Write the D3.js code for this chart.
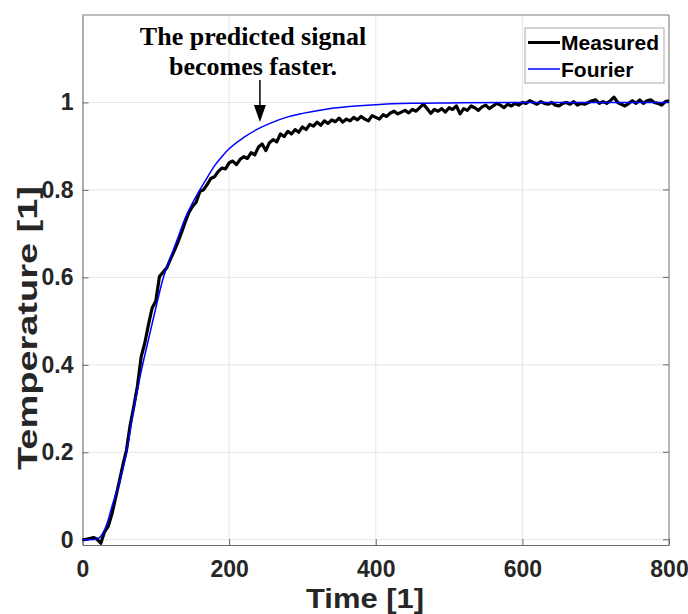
<!DOCTYPE html>
<html>
<head>
<meta charset="utf-8">
<script src="https://cdn.jsdelivr.net/npm/d3@7"></script>
<style>
  body { margin: 0; background: #fff; }
  svg { display: block; }
</style>
</head>
<body>
<svg id="chart" width="688" height="614"></svg>
<script>
// measured response, sampled every 5 time units from 0 to 800
const measuredStep = 5
const measured = [
  0.000, 0.001, 0.003, 0.005, 0.001, -0.008, 0.018, 0.030, 0.058, 0.095,
  0.132, 0.170, 0.205, 0.262, 0.305, 0.352, 0.418, 0.450, 0.492, 0.530,
  0.546, 0.602, 0.612, 0.622, 0.642, 0.660, 0.680, 0.702, 0.726, 0.748,
  0.762, 0.772, 0.796, 0.800, 0.812, 0.826, 0.830, 0.842, 0.850, 0.848,
  0.862,
  0.866, 0.858, 0.870, 0.876, 0.872, 0.885, 0.880, 0.898, 0.905, 0.890,
  0.908, 0.915, 0.910, 0.928, 0.922, 0.934, 0.928, 0.938, 0.932, 0.944,
  0.938, 0.950, 0.946, 0.955, 0.948, 0.958, 0.952, 0.960, 0.956, 0.964,
  0.955, 0.962, 0.958, 0.966, 0.960, 0.968, 0.962, 0.958, 0.970, 0.966,
  0.962, 0.972, 0.968, 0.976, 0.980, 0.974, 0.978, 0.982, 0.976, 0.984,
  0.980, 0.988, 0.996, 0.986, 0.975, 0.984, 0.980, 0.986, 0.978, 0.988,
  0.984, 0.992, 0.974, 0.986, 0.982, 0.992, 0.988, 0.982, 0.990, 0.994,
  0.986, 0.992, 0.998, 0.994, 0.988, 0.996, 0.992, 0.998, 0.994, 1.000,
  0.998, 1.004, 1.000, 0.996, 1.002, 0.998, 0.996, 1.000, 0.994, 0.992,
  0.998, 1.000, 0.996, 1.002, 0.994, 0.998, 0.996, 1.000, 1.004, 1.006,
  0.998, 1.002, 0.998, 1.004, 1.012, 1.000, 0.996, 0.992, 0.998, 1.004,
  0.998, 1.006, 0.998, 1.004, 1.006, 1.000, 0.998, 0.994, 1.002, 1.004
]

// Fourier model output
const fourierTime = [0, 10, 20, 25, 30, 35, 40, 50, 60, 70, 80, 90, 100, 110, 120, 130, 140, 150,
  160, 170, 180, 190, 200, 220, 240, 260, 280, 300, 330, 360, 400, 450, 500, 600, 700, 800]
const fourierValue = [0.000, 0.000, 0.002, 0.008, 0.022, 0.045, 0.075, 0.128, 0.200, 0.300, 0.385,
  0.458, 0.530, 0.598, 0.645, 0.690, 0.735, 0.770, 0.800, 0.828, 0.855, 0.876, 0.894, 0.920, 0.940,
  0.955, 0.967, 0.975, 0.984, 0.990, 0.995, 0.998, 0.999, 1.000, 1.000, 1.000]

const xTicks = [0, 200, 400, 600, 800]
const yTicks = [0, 0.2, 0.4, 0.6, 0.8, 1]
const legendNames = ["Measured", "Fourier"]
const annotationLines = ["The predicted signal", "becomes faster."]
const arrowTime = 242

const width = 688, height = 614
const margin = { top: 15, right: 19, bottom: 69, left: 82.5 }

const svg = d3.select("#chart")

const x = d3.scaleLinear().domain([0, 800]).range([margin.left, width - margin.right])
const y = d3.scaleLinear().domain([-0.012, 1.2]).range([height - margin.bottom, margin.top])

const axisColor = "#262626"
const tickFont = "'Liberation Sans', Arial, sans-serif"

// grid
svg.append("g")
  .selectAll("line.gx")
  .data(xTicks)
  .join("line")
  .attr("x1", d => x(d)).attr("x2", d => x(d))
  .attr("y1", margin.top).attr("y2", height - margin.bottom)
  .attr("stroke", "#e6e6e6")
svg.append("g")
  .selectAll("line.gy")
  .data(yTicks)
  .join("line")
  .attr("x1", margin.left).attr("x2", width - margin.right)
  .attr("y1", d => y(d)).attr("y2", d => y(d))
  .attr("stroke", "#e6e6e6")

// box (top/right)
svg.append("path")
  .attr("d", `M${margin.left},${margin.top}H${width - margin.right}V${height - margin.bottom}`)
  .attr("fill", "none")
  .attr("stroke", "#7a7a7a")

// axes, ticks inside
const xAxis = svg.append("g")
  .attr("transform", `translate(0,${height - margin.bottom})`)
  .call(d3.axisBottom(x).tickValues(xTicks).tickSizeInner(-6).tickSizeOuter(0).tickPadding(16))
const yAxis = svg.append("g")
  .attr("transform", `translate(${margin.left},0)`)
  .call(d3.axisLeft(y).tickValues(yTicks).tickSizeInner(-6).tickSizeOuter(0).tickPadding(9)
    .tickFormat(d => d3.format("")(+d.toFixed(1))))

;[xAxis, yAxis].forEach(g => {
  g.select(".domain").attr("stroke", "#6b6b6b")
  g.selectAll(".tick line").attr("stroke", "#6b6b6b")
  g.selectAll(".tick text")
    .attr("fill", axisColor)
    .style("font-family", tickFont)
    .style("font-size", "23px")
    .style("font-weight", "bold")
})

// right-side ticks on box
svg.append("g")
  .selectAll("line")
  .data(yTicks)
  .join("line")
  .attr("x1", width - margin.right).attr("x2", width - margin.right - 6)
  .attr("y1", d => y(d)).attr("y2", d => y(d))
  .attr("stroke", "#6b6b6b")

// axis labels
svg.append("text")
  .attr("x", 365)
  .attr("y", 608)
  .attr("text-anchor", "middle")
  .attr("textLength", 118)
  .attr("lengthAdjust", "spacingAndGlyphs")
  .attr("fill", axisColor)
  .style("font-family", tickFont)
  .style("font-size", "27px")
  .style("font-weight", "bold")
  .text("Time [1]")

svg.append("text")
  .attr("transform", `translate(37,328) rotate(-90)`)
  .attr("text-anchor", "middle")
  .attr("textLength", 284)
  .attr("lengthAdjust", "spacingAndGlyphs")
  .attr("fill", axisColor)
  .style("font-family", tickFont)
  .style("font-size", "27px")
  .style("font-weight", "bold")
  .text("Temperature [1]")

// lines
const line = d3.line()
  .x((d, i) => x(i * measuredStep))
  .y(d => y(d))

svg.append("path")
  .datum(measured)
  .attr("d", line)
  .attr("fill", "none")
  .attr("stroke", "#000")
  .attr("stroke-width", 3.2)
  .attr("stroke-linejoin", "round")

const fourierLine = d3.line()
  .x(d => x(d[0]))
  .y(d => y(d[1]))
  .curve(d3.curveMonotoneX)

svg.append("path")
  .datum(d3.zip(fourierTime, fourierValue))
  .attr("d", fourierLine)
  .attr("fill", "none")
  .attr("stroke", "#0000ff")
  .attr("stroke-width", 1.5)

// annotation
const note = svg.append("text")
  .attr("text-anchor", "middle")
  .attr("fill", "#000")
  .style("font-family", "'Liberation Serif', 'Times New Roman', serif")
  .style("font-size", "26px")
  .style("font-weight", "bold")
note.selectAll("tspan")
  .data(annotationLines)
  .join("tspan")
  .attr("x", 253)
  .attr("y", (d, i) => 45 + i * 30)
  .text(d => d)

const ax = x(arrowTime)
svg.append("line")
  .attr("x1", ax).attr("x2", ax)
  .attr("y1", 80).attr("y2", 108)
  .attr("stroke", "#000").attr("stroke-width", 1.5)
svg.append("path")
  .attr("d", `M${ax - 6},105L${ax + 6},105L${ax},122Z`)
  .attr("fill", "#000")

// legend
const lg = svg.append("g").attr("transform", "translate(525,28)")
lg.append("rect")
  .attr("width", 139).attr("height", 55)
  .attr("fill", "#fff")
  .attr("stroke", "#a8a8a8")
const legendColors = ["#000", "#0000ff"]
const legendWidths = [3, 1.5]
const rows = lg.selectAll("g.row")
  .data(legendNames)
  .join("g")
  .attr("transform", (d, i) => `translate(0,${14.5 + i * 26.5})`)
rows.append("line")
  .attr("x1", 3).attr("x2", 35)
  .attr("stroke", (d, i) => legendColors[i])
  .attr("stroke-width", (d, i) => legendWidths[i])
rows.append("text")
  .attr("x", 36)
  .attr("y", 7.5)
  .attr("fill", "#000")
  .style("font-family", tickFont)
  .style("font-size", "21px")
  .style("font-weight", "bold")
  .text(d => d)
</script>
</body>
</html>
